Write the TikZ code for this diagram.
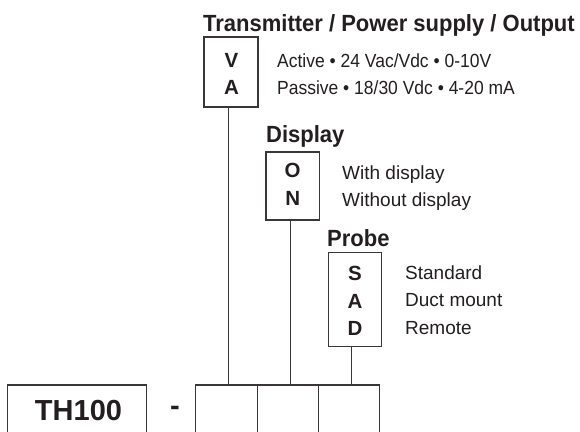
\documentclass[tikz,border=0pt]{standalone}
\usepackage{fontspec}
\setmainfont{Liberation Sans}
\newfontfamily\narrowfont{Liberation Sans}[FakeStretch=0.92]
\newfontfamily\headfont{Liberation Sans}[FakeStretch=0.94]
\definecolor{ink}{HTML}{231F20}
\definecolor{rule}{HTML}{3A3637}
\begin{document}
\begin{tikzpicture}[x=1pt,y=-1pt,
  box/.style={draw=rule, line width=1.1pt, rectangle, inner sep=0pt},
  conn/.style={draw=rule, line width=1.1pt},
  head/.style={anchor=base west, inner sep=0pt, text=ink, font=\headfont\fontsize{23.4}{27}\selectfont\bfseries},
  code/.style={anchor=base, inner sep=0pt, text=ink, font=\fontsize{20.5}{24}\selectfont\bfseries},
  desc/.style={anchor=base west, inner sep=0pt, text=ink, font=\fontsize{19}{23}\selectfont},
  narrowdesc/.style={anchor=base west, inner sep=0pt, text=ink, font=\narrowfont\fontsize{19}{23}\selectfont},
  big/.style={anchor=base, inner sep=0pt, text=ink, font=\fontsize{29}{34}\selectfont\bfseries},
]
\clip (0,0) rectangle (580,431);
\fill[white] (0,0) rectangle (580,431);

% Transmitter / Power supply / Output
\node[head] (t1) at (203,31) {Transmitter / Power supply / Output};
\node[box, minimum width=54pt, minimum height=70pt] (va) at (231,72) {};
\node[code] (cV) at (231.5,67) {V};
\node[code] (cA1) at (231.5,94) {A};
\node[narrowdesc] (d1) at (277,67) {Active • 24 Vac/Vdc • 0-10V};
\node[narrowdesc] (d2) at (277,94) {Passive • 18/30 Vdc • 4-20 mA};

% Display
\node[head] (t2) at (266,142) {Display};
\node[box, minimum width=53.4pt, minimum height=68pt] (on) at (292.7,186) {};
\node[code] (cO) at (292.7,177) {O};
\node[code] (cN) at (292.7,205) {N};
\node[desc] (d3) at (342,179) {With display};
\node[desc] (d4) at (342,206) {Without display};

% Probe
\node[head] (t3) at (327,246) {Probe};
\node[box, minimum width=53.7pt, minimum height=93.5pt] (sad) at (354.9,299.3) {};
\node[code] (cS) at (355,280) {S};
\node[code] (cA2) at (355,308) {A};
\node[code] (cD) at (355,335) {D};
\node[desc] (d5) at (405,279) {Standard};
\node[desc] (d6) at (405,306.7) {Duct mount};
\node[desc] (d7) at (405,334) {Remote};

% Bottom row
\node[box, minimum width=139.4pt, minimum height=60pt] (thbox) at (77,415) {};
\node[big] (th) at (78.5,420) {TH100};
\node[big] (dash) at (175,415) {-};
\node[box, minimum width=61.6pt, minimum height=60pt] (b1) at (226.5,415) {};
\node[box, minimum width=61pt, minimum height=60pt] (b2) at (287.8,415) {};
\node[box, minimum width=61pt, minimum height=60pt] (b3) at (348.8,415) {};

% Connectors
\draw[conn] ([xshift=-2.5pt]va.south) -- ([xshift=-2.5pt]va.south |- b1.north);
\draw[conn] ([xshift=-2.2pt]on.south) -- ([xshift=-2.2pt]on.south |- b2.north);
\draw[conn] ([xshift=-3.4pt]sad.south) -- ([xshift=-3.4pt]sad.south |- b3.north);
\end{tikzpicture}
\end{document}
